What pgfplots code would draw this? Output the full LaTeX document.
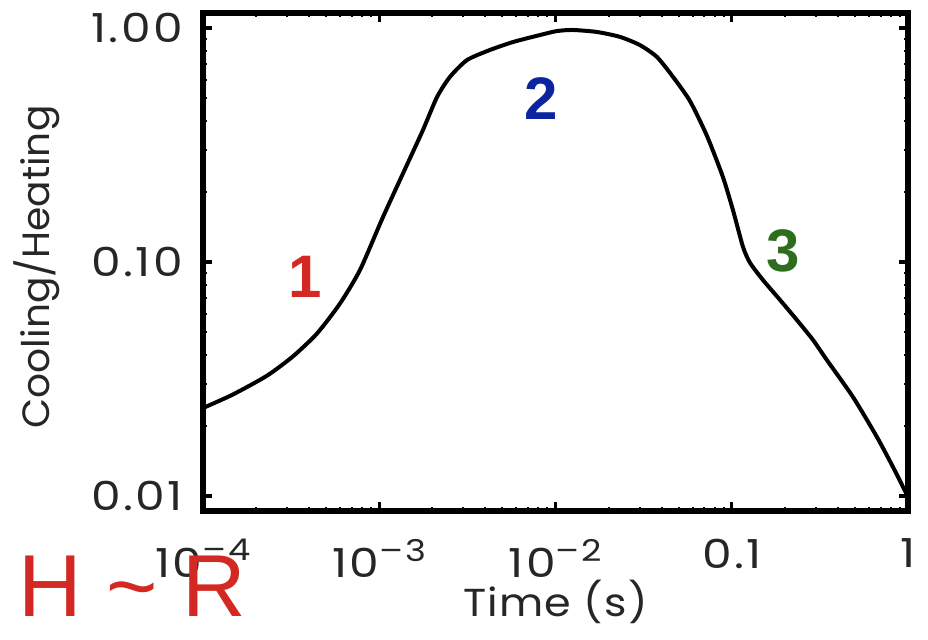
\documentclass[border=0pt]{standalone}
\usepackage{pgfplots}
\pgfplotsset{compat=1.18}
\usepackage{fontspec}
\setmainfont{Poppins}
\newfontfamily\tickfont[FakeStretch=1.18, LetterSpace=6]{Poppins}
\newfontfamily\labfont[FakeStretch=1.1, LetterSpace=3]{Poppins}
\newfontfamily\ylabfont[FakeStretch=1.03, LetterSpace=0]{Poppins}
\newfontfamily\arial{Liberation Sans}
\definecolor{cred}{RGB}{212,40,34}
\definecolor{cblue}{RGB}{12,36,160}
\definecolor{cgreen}{RGB}{46,108,30}
\newcommand{\tp}[1]{10\raisebox{0.42em}{\fontsize{15}{15}\selectfont –#1}}
\begin{document}
\begin{tikzpicture}
\useasboundingbox (-101.5pt,-64.5pt) rectangle (362.5pt,255.5pt);
\begin{axis}[
  scale only axis,
  width=352.5pt, height=249pt,
  at={(0,0)}, anchor=south west,
  xmode=log, ymode=log,
  xmin=1e-4, xmax=1, ymin=0.00863, ymax=1.159,
  axis line style={line width=3.2pt, line cap=rect},
  tick align=inside,
  major tick length=4.5pt, minor tick length=2pt,
  every major tick/.style={line width=1.6pt, black},
  every minor tick/.style={line width=1pt, black},
  xtick={1e-4,1e-3,1e-2,0.1,1},
  xticklabels={\tp{4},\tp{3},\tp{2},0.1,1},
  ytick={0.01,0.1,1},
  yticklabels={0.01,0.10,1.00},
  tick label style={font=\tickfont\fontsize{20}{22}\selectfont, text=black!85},
  xticklabel style={yshift=-10.5pt},
  yticklabel style={xshift=-6.5pt},
  xlabel={Time (s)},
  ylabel={Cooling/Heating},
  xlabel style={font=\labfont\fontsize{19.5}{22}\selectfont, text=black!85, at={(axis description cs:0.5,-0.182)}, anchor=center},
  ylabel style={font=\ylabfont\fontsize{19}{22}\selectfont, text=black!85, at={(axis description cs:-0.2355,0.49)}, anchor=center, rotate=0},
  clip=false,
]
\addplot[black, line width=2pt, smooth, tension=0.4] coordinates {
(1e-4,0.02377)
(1.479e-4,0.02716)
(2.306e-4,0.03266)
(3.243e-4,0.03954)
(4.436e-4,0.04948)
(5.984e-4,0.06641)
(7.78e-4,0.09247)
(1.050e-3,0.1556)
(1.435e-3,0.2597)
(1.770e-3,0.3664)
(2.128e-3,0.5070)
(2.518e-3,0.6180)
(3.148e-3,0.7295)
(4.246e-3,0.8054)
(5.741e-3,0.8710)
(8.17e-3,0.9333)
(1.021e-2,0.9705)
(1.256e-2,0.9806)
(1.718e-2,0.9616)
(2.323e-2,0.9162)
(3.013e-2,0.8453)
(3.767e-2,0.7516)
(4.645e-2,0.6180)
(5.794e-2,0.4875)
(7.244e-2,0.3452)
(8.913e-2,0.2307)
(0.1016,0.1667)
(0.1159,0.1159)
(0.1271,0.0991)
(0.1503,0.0838)
(0.1879,0.06887)
(0.2344,0.05649)
(0.2891,0.04645)
(0.3467,0.03811)
(0.4875,0.02649)
(0.6668,0.01787)
(0.8222,0.01330)
(1,0.00990)
};
\node[text=cred, font=\arial\bfseries\fontsize{30}{30}\selectfont] at (axis description cs:0.1447,0.470) {1};
\node[text=cblue, font=\arial\bfseries\fontsize{30}{30}\selectfont] at (axis description cs:0.479,0.829) {2};
\node[text=cgreen, font=\arial\bfseries\fontsize{30}{30}\selectfont] at (axis description cs:0.823,0.522) {3};
\node[text=cred, font=\arial\fontsize{44}{44}\selectfont, inner sep=0pt] at (axis description cs:-0.1,-0.152) {H \char"007E{} R};
\end{axis}
\end{tikzpicture}
\end{document}
